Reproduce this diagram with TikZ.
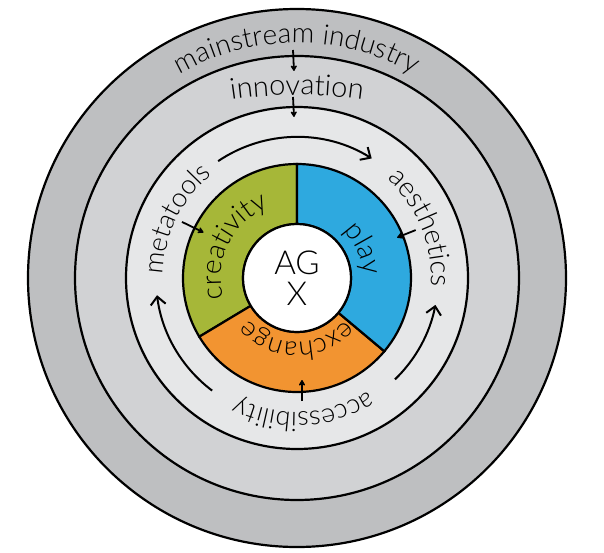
\documentclass[tikz,border=0pt]{standalone}
\usepackage{fontspec}
\setmainfont{Lato Light}
\usetikzlibrary{arrows.meta,decorations.text}
\definecolor{ringouter}{RGB}{190,191,193}
\definecolor{ringmid}{RGB}{209,210,212}
\definecolor{ringinner}{RGB}{230,231,232}
\definecolor{creagreen}{RGB}{166,183,56}
\definecolor{playblue}{RGB}{46,169,223}
\definecolor{exchorange}{RGB}{242,148,49}

\begin{document}
\begin{tikzpicture}[x=1pt,y=1pt,
    ring/.style={draw=black, line width=2.2pt},
    flow/.style={line width=2pt, -{Straight Barb[length=8pt,width=15pt]}},
    push/.style={line width=1.8pt, -{Stealth[length=7pt,width=8pt,round]}},
    curved/.style={decorate, decoration={text along path, text align=center, text={#1}}}]
        \useasboundingbox (-297,-274) rectangle (307,278);
        % rings
        \draw [ring, fill=ringouter] (0,0) circle (269);
        \draw [ring, fill=ringmid] (0,0) circle (222);
        \draw [ring, fill=ringinner] (0,0) circle (171);
        % sectors
        \draw [ring, fill=creagreen] (90:54) -- (90:114) arc[start angle=90, end angle=211, radius=114]
            -- (211:54) arc[start angle=211, end angle=90, radius=54] -- cycle;
        \draw [ring, fill=exchorange] (211:54) -- (211:114) arc[start angle=211, end angle=320, radius=114]
            -- (320:54) arc[start angle=320, end angle=211, radius=54] -- cycle;
        \draw [ring, fill=playblue] (-40:54) -- (-40:114) arc[start angle=-40, end angle=90, radius=114]
            -- (90:54) arc[start angle=90, end angle=-40, radius=54] -- cycle;
        \node [ring, fill=white, circle, minimum size=108pt, inner sep=0pt] (hub) at (0,0) {};
        \node [align=center, font=\fontsize{33}{31}\selectfont] (agx) at (0,0) {AG\\X};
        % ring labels
        \path [curved={|\fontsize{28}{28}\selectfont|mainstream industry}] (150:235) arc[start angle=150, end angle=30, radius=235];
        \path [shift={(0,-267)}, curved={|\fontsize{29}{29}\selectfont|innovation}] (110:450) arc[start angle=110, end angle=70, radius=450];
        \path [curved={|\fontsize{27}{27}\selectfont|metatools}] (204:134) arc[start angle=204, end angle=104, radius=134];
        \path [curved={|\fontsize{28}{28}\selectfont|aesthetics}] (72:134) arc[start angle=72, end angle=-28, radius=134];
        \path [curved={|\fontsize{27}{27}\selectfont|accessibility}] (-37:134) arc[start angle=-37, end angle=-137, radius=134];
        \path [curved={|\fontsize{28}{28}\selectfont|creativity}] (210:76) arc[start angle=210, end angle=97, radius=76];
        \path [curved={|\fontsize{28}{28}\selectfont|play}] (70:66) arc[start angle=70, end angle=-22, radius=66];
        \path [curved={|\fontsize{27}{27}\selectfont|exchange}] (-40:64) arc[start angle=-40, end angle=-140, radius=64];
        % flows in the third ring
        \draw [flow] (124:141) arc[start angle=124, end angle=58, radius=141];
        \draw [flow] (233:141) arc[start angle=233, end angle=187, radius=141];
        \draw [flow] (-46:141) arc[start angle=-46, end angle=-11, radius=141];
        % short arrows
        \coordinate (main-out) at (-4,228);
        \coordinate (inno-in) at (-3,207);
        \coordinate (inno-out) at (-4,181);
        \coordinate (tools-in) at (-3,161);
        \coordinate (meta-out) at (154:128);
        \coordinate (crea-in) at (154:104);
        \coordinate (aest-out) at (22:128);
        \coordinate (play-in) at (22:108);
        \coordinate (acc-out) at (5,-123);
        \coordinate (exch-in) at (5,-102);
        \draw [push] (main-out) -- (inno-in);
        \draw [push] (inno-out) -- (tools-in);
        \draw [push] (meta-out) -- (crea-in);
        \draw [push] (aest-out) -- (play-in);
        \draw [push] (acc-out) -- (exch-in);
    \end{tikzpicture}
\end{document}
